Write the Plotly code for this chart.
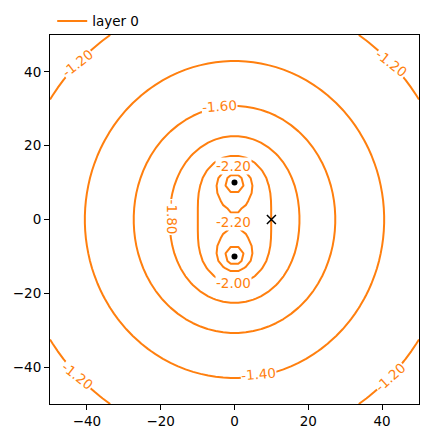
import numpy as np
import plotly.graph_objects as go

# ---- data ----
source_x = [0.0, 0.0]          # point sources (black dots)
source_y = [10.0, -10.0]
source_k = [0.27625, 0.27625]  # log-potential strength of each source
offset = -3.462
probe_x = [10.0]               # test point (black x)
probe_y = [0.0]
levels = [-2.4, -2.2, -2.0, -1.8, -1.6, -1.4, -1.2]
tick_vals = [-40, -20, 0, 20, 40]
tick_text = ["\u221240", "\u221220", "0", "20", "40"]
series_name = "layer 0"

# contour labels (level values) with placement
label_levels = [-1.20, -1.20, -1.20, -1.20, -1.40, -1.60, -1.80, -2.20, -2.20, -2.00]
label_pos = [(-42.5, 42.4, -38), (42.5, 42.4, 38), (-42.5, -42.4, 38), (42.3, -42.8, -42),
             (6.4, -41.8, -5), (-4.0, 30.7, -4), (-17.0, 0.6, 90),
             (-0.2, 14.5, 0), (-0.2, -0.6, 0), (-0.2, -17.2, 0)]

# ---- field ----
gx = np.linspace(-50, 50, 50)
gy = np.linspace(-50, 50, 50)
X, Y = np.meshgrid(gx, gy)
Z = np.full_like(X, offset)
for sx, sy, k in zip(source_x, source_y, source_k):
    Z += k * np.log(np.sqrt((X - sx) ** 2 + (Y - sy) ** 2) + 1e-9)

orange = "#ff7f0e"
font_family = "DejaVu Sans"

fig = go.Figure()
fig.add_trace(go.Contour(
    x=gx, y=gy, z=Z,
    contours=dict(start=min(levels), end=max(levels), size=0.2, coloring="lines", showlabels=False),
    colorscale=[[0, orange], [1, orange]],
    showscale=False, line=dict(width=2, smoothing=0),
    showlegend=False, hoverinfo="skip",
))
fig.add_trace(go.Scatter(x=[None], y=[None], mode="lines", name=series_name,
                         line=dict(color=orange, width=2)))
fig.add_trace(go.Scatter(x=source_x, y=source_y, mode="markers", showlegend=False,
                         marker=dict(color="black", size=6)))
fig.add_trace(go.Scatter(x=probe_x, y=probe_y, mode="markers", showlegend=False,
                         marker=dict(color="black", size=9, symbol="x-thin",
                                     line=dict(color="black", width=1.5))))

for lv, (lx, ly, ang) in zip(label_levels, label_pos):
    fig.add_annotation(x=lx, y=ly, text=f"{lv:.2f}", showarrow=False, textangle=ang,
                       font=dict(family=font_family, size=13.5, color=orange),
                       bgcolor="white", borderpad=0)

axis_common = dict(range=[-50, 50], showgrid=False, zeroline=False, showline=True,
                   linecolor="black", linewidth=1, mirror=True, ticks="outside",
                   ticklen=5, tickwidth=1, tickcolor="black",
                   tickvals=tick_vals, ticktext=tick_text,
                   tickfont=dict(family=font_family, size=13.5, color="black"))
fig.update_layout(
    width=429, height=438,
    margin=dict(l=50, r=10, t=35, b=34, autoexpand=False),
    paper_bgcolor="white", plot_bgcolor="white",
    xaxis=axis_common, yaxis=axis_common,
    legend=dict(x=0.006, xanchor="left", y=0.995, yanchor="bottom", orientation="h",
                font=dict(family=font_family, size=13.5, color="black"),
                bgcolor="rgba(0,0,0,0)"),
)
fig.write_html("out.html")
